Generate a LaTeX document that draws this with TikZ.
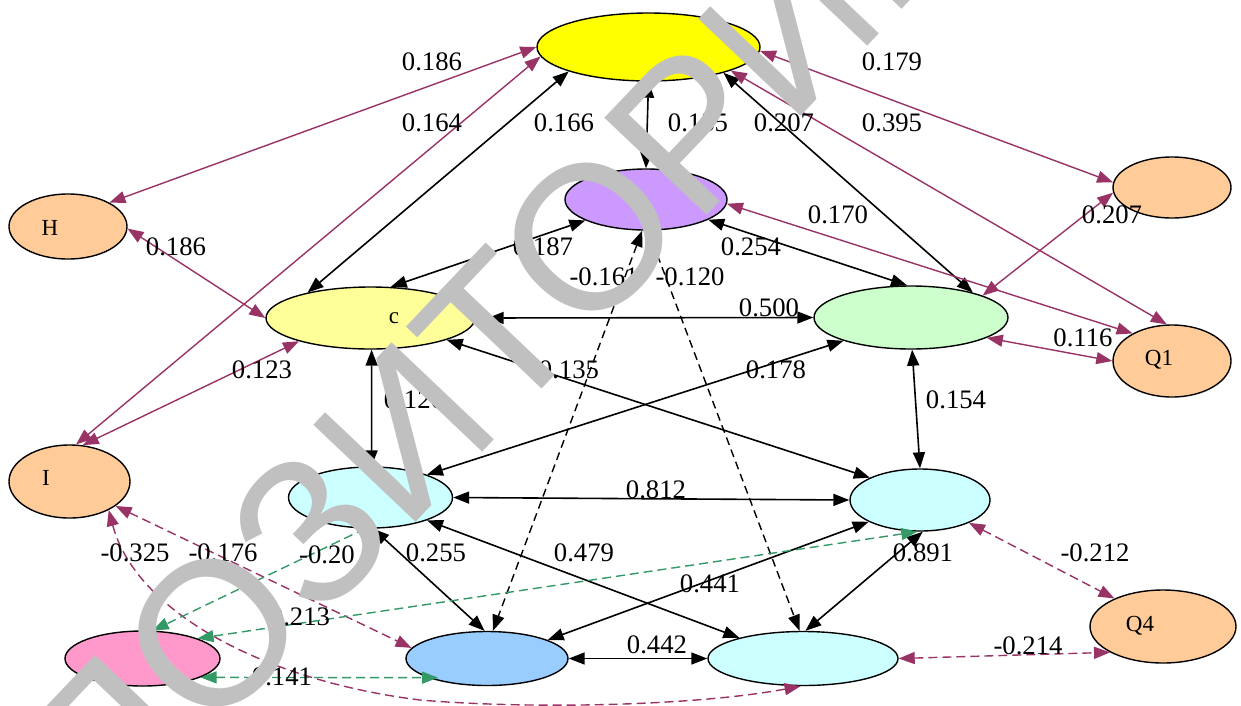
\documentclass[tikz,border=0pt]{standalone}
\usepackage{fontspec}
\setmainfont{Liberation Serif}
\newfontfamily\wmfont{Liberation Sans}
\usetikzlibrary{shapes.geometric,arrows.meta}
\definecolor{mag}{HTML}{993366}
\definecolor{grn}{HTML}{339966}
\definecolor{fY}{HTML}{FFFF00}
\definecolor{fP}{HTML}{CC99FF}
\definecolor{fC}{HTML}{FFFF99}
\definecolor{fG}{HTML}{CCFFCC}
\definecolor{fO}{HTML}{FFCC99}
\definecolor{fCy}{HTML}{CCFFFF}
\definecolor{fB}{HTML}{99CCFF}
\definecolor{fPk}{HTML}{FF99CC}
\definecolor{wmgray}{HTML}{C0C0C0}
\begin{document}
\begin{tikzpicture}[x=1pt,y=-1pt,
  >={Triangle[length=16pt,width=12pt]},
  ell/.style={ellipse,draw=black,line width=1.4pt,inner sep=0pt},
  ntext/.style={inner sep=0pt,font=\fontsize{23}{23}\selectfont},
  lbl/.style={inner sep=0pt,font=\fontsize{26.7}{27}\selectfont},
  blk/.style={draw=black,line width=1.6pt},
  blkd/.style={draw=black,line width=1.4pt,dash pattern=on 8pt off 5pt},
  mg/.style={draw=mag,line width=1.4pt},
  mgd/.style={draw=mag,line width=1.4pt,dash pattern=on 9pt off 5pt},
  gd/.style={draw=grn,line width=1.4pt,dash pattern=on 9pt off 5pt},
  wm/.style={inner sep=0pt,text=wmgray,font=\wmfont\fontsize{205}{205}\selectfont}
]
\useasboundingbox[fill=white] (0,0) rectangle (1241,705);

% nodes
\node[ell,fill=fY,minimum width=223pt,minimum height=68pt] (Y) at (648.5,47) {};
\node[ell,fill=fP,minimum width=162pt,minimum height=61pt] (P) at (646,199.5) {};
\node[ell,fill=fC,minimum width=209pt,minimum height=62pt] (C) at (370.5,318) {};
\node[ell,fill=fG,minimum width=194pt,minimum height=63pt] (G) at (911,317.5) {};
\node[ell,fill=fO,minimum width=118pt,minimum height=65pt] (H) at (68,226.5) {};
\node[ell,fill=fO,minimum width=118pt,minimum height=61pt] (O1) at (1172,187.5) {};
\node[ell,fill=fO,minimum width=118pt,minimum height=72pt] (Q1) at (1172,361) {};
\node[ell,fill=fO,minimum width=121pt,minimum height=73pt] (I) at (69.5,481.5) {};
\node[ell,fill=fCy,minimum width=164pt,minimum height=61pt] (CL) at (370.5,497.5) {};
\node[ell,fill=fCy,minimum width=140pt,minimum height=62pt] (CR) at (920,500) {};
\node[ell,fill=fB,minimum width=162pt,minimum height=54pt] (B) at (487,658.5) {};
\node[ell,fill=fCy,minimum width=190pt,minimum height=54pt] (CB) at (803,658.5) {};
\node[ell,fill=fPk,minimum width=155pt,minimum height=55pt] (PK) at (142.5,658.5) {};
\node[ell,fill=fO,minimum width=146pt,minimum height=73pt] (Q4) at (1163,626.5) {};

\node[ntext] (Ht) at (50,227.5) {H};
\node[ntext] (It) at (46,478) {I};
\node[ntext] (Q1t) at (1159,360) {Q1};
\node[ntext] (Q4t) at (1140,626) {Q4};
\node[ntext] (Ct) at (394,318) {c};

% black solid
\draw[blk,<->] (C.158) -- (Y.-163);
\draw[blk,<->] (Y.south) -- (P.north);
\draw[blk,<->] (Y.-19) -- (G.22);
\draw[blk,<->] (P.-161) -- (C.57);
\draw[blk,<->] (P.-18) -- (G.97);
\draw[blk,<->,shorten <=12pt] (C.east) -- (G.west);
\draw[blk,<->] (C.-16) -- (CR.156);
\draw[blk,<->] (G.-161) -- (CL.22);
\draw[blk,<->] (G.-88) -- (CR.90);
\draw[blk,<->] (C.-88) -- (CL.88);
\draw[blk,<->] (CL.east) -- (CR.west);
\draw[blk,<->] (CL.-85) -- (B.95);
\draw[blk,<->] (CL.-22) -- (CB.162);
\draw[blk,<->] (CR.-157) -- (B.17);
\draw[blk,<->] (CR.-85) -- (CB.85);
\draw[blk,<->] (B.east) -- (CB.west);
% black dashed
\draw[blkd,<->] (P.-97) -- (B.78);
\draw[blkd,->] (P.-86) -- (CB.97);
% magenta solid
\draw[mg,<->] (Y.180) -- (H.30);
\draw[mg,<->] (Y.-175) -- (I.80);
\draw[mg,<->] (H.-2) -- (C.west);
\draw[mg,<->] (I.70) -- (C.-162);
\draw[mg,<->] (Y.-2) -- (O1.175);
\draw[mg,<->] (Y.-16) -- (Q1.98);
\draw[mg,<->] (P.-3) -- (Q1.145);
\draw[mg,<->] (G.17) -- (O1.-175);
\draw[mg,<->] (G.-15) -- (Q1.west);
% magenta dashed
\draw[mgd,<->] (I.-28) -- (B.172);
\coordinate (cm) at (420,700);
\draw[mgd,<->] (I.-36) .. controls (135,610) and (260,680) .. (cm) .. controls (540,710) and (700,705) .. (CB.-95);
\draw[mgd,<->] (CR.-25) -- (Q4.150);
\draw[mgd,<->] (CB.east) -- (Q4.-154);
% green dashed
\draw[gd,->] (CL.-100) -- (PK.70);
\draw[gd,<->] (CR.-95) -- (PK.20);
\draw[gd,<->,shorten >=-10pt] (PK.-18) -- (B.-162);

% labels
\node[lbl] (l01) at (432,62) {0.186};
\node[lbl] (l02) at (432,123) {0.164};
\node[lbl] (l03) at (564,123) {0.166};
\node[lbl] (l04) at (698,123) {0.135};
\node[lbl] (l05) at (784,123) {0.207};
\node[lbl] (l06) at (892,62) {0.179};
\node[lbl] (l07) at (892,123) {0.395};
\node[lbl] (l08) at (838,215) {0.170};
\node[lbl] (l09) at (1112,215) {0.207};
\node[lbl] (l10) at (1083,338) {0.116};
\node[lbl] (l11) at (543,247) {0.187};
\node[lbl] (l12) at (751,247) {0.254};
\node[lbl] (l13) at (604,277) {-0.161};
\node[lbl] (l14) at (690,277) {-0.120};
\node[lbl] (l15) at (769,308) {0.500};
\node[lbl] (l16) at (569,370) {0.135};
\node[lbl] (l17) at (776,370) {0.178};
\node[lbl] (l18) at (414,400) {0.126};
\node[lbl] (l19) at (956,400) {0.154};
\node[lbl] (l20) at (176,247) {0.186};
\node[lbl] (l21) at (262,370) {0.123};
\node[lbl] (l22) at (656,490) {0.812};
\node[lbl] (l23) at (436,553) {0.255};
\node[lbl] (l24) at (584,553) {0.479};
\node[lbl] (l25) at (710,584) {0.441};
\node[lbl] (l26) at (923,553) {0.891};
\node[lbl] (l27) at (657,645) {0.442};
\node[lbl] (l28) at (1095,553) {-0.212};
\node[lbl] (l29) at (1028,646) {-0.214};
\node[lbl] (l30) at (135,553) {-0.325};
\node[lbl] (l31) at (223,553) {-0.176};
\node[lbl] (l32) at (327,555) {-0.20};
\node[lbl] (l33) at (300,617) {0.213};
\node[lbl] (l34) at (282,677) {0.141};

% watermark
\node[wm,rotate=46.5,anchor=base west] (wmb) at (209,740) {ОЗИТОРИЙ};
\node[wm,rotate=46.5,anchor=base east] (wma) at (209,740) {РЕП};
\end{tikzpicture}
\end{document}
